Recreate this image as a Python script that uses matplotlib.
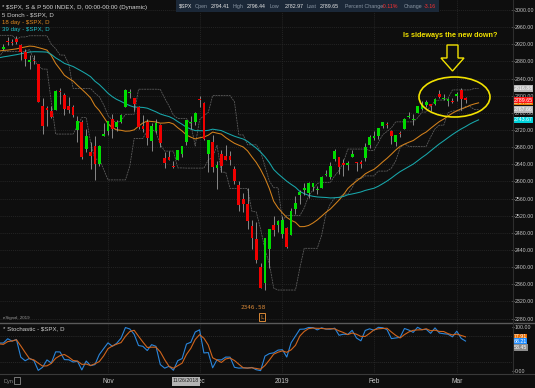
import matplotlib
matplotlib.use('Agg')
import matplotlib.pyplot as plt
import matplotlib.transforms as mtrans
from matplotlib.patches import Ellipse, Polygon, Rectangle
import numpy as np
import pandas as pd

# closes before the first bar, only used to warm up the moving averages (Jul 2 - Aug 31 2018)
warmup_closes = [2726.71, 2713.22, 2736.61, 2759.82, 2784.17, 2793.84, 2774.02, 2798.29, 2801.31,
                 2798.43, 2809.55, 2815.62, 2804.49, 2801.83, 2806.98, 2820.40, 2846.07, 2837.44,
                 2818.82, 2802.60, 2816.29, 2813.36, 2827.22, 2840.35, 2850.40, 2858.45, 2857.70,
                 2853.58, 2833.28, 2821.93, 2839.96, 2818.37, 2840.69, 2850.13, 2857.05, 2862.96,
                 2861.82, 2856.98, 2874.69, 2896.74, 2897.52, 2914.04, 2901.13, 2901.52]

holidays = ['2018-11-22', '2018-12-05', '2018-12-25', '2019-01-01', '2019-01-21', '2019-02-18']
dates = pd.bdate_range('2018-09-04', '2019-03-05')
dates = dates[~dates.isin(pd.to_datetime(holidays))]

# $SPX daily bars, Sep 4 2018 - Mar 5 2019
opens = [2896.96, 2891.59, 2888.64, 2868.26, 2881.39, 2871.57, 2888.29, 2896.85, 2906.38, 2903.83,
         2890.74, 2906.60, 2919.73, 2936.76, 2921.83, 2921.75, 2916.98, 2911.65, 2910.03,
         2926.29, 2923.80, 2931.69, 2919.35, 2902.54, 2877.53, 2882.51, 2873.90, 2776.87, 2770.54,
         2763.83, 2767.05, 2811.67, 2802.00, 2775.66, 2773.94, 2721.03, 2737.87, 2674.88, 2667.86,
         2682.65, 2640.68, 2705.60,
         2717.58, 2745.45, 2726.37, 2738.40, 2774.13, 2806.38, 2794.10, 2773.93, 2730.05, 2737.90,
         2693.52, 2718.54, 2730.74, 2654.60, 2657.74, 2633.36, 2649.97, 2663.75, 2691.45, 2736.97,
         2737.76,
         2790.50, 2782.43, 2663.51, 2691.26, 2630.86, 2664.44, 2658.23, 2658.70, 2629.68, 2590.75,
         2559.90, 2547.05, 2496.77, 2465.38, 2400.56, 2363.12, 2442.50, 2498.77, 2498.94,
         2476.96, 2491.92, 2474.33, 2535.61, 2568.11, 2580.00, 2573.51, 2588.11, 2580.31, 2585.10,
         2614.75, 2609.28, 2651.27, 2657.88, 2643.48, 2638.84, 2657.44, 2644.97, 2644.89, 2653.62,
         2685.49,
         2702.32, 2706.49, 2728.34, 2735.05, 2717.53, 2692.36, 2712.40, 2722.61, 2750.30, 2743.50,
         2760.24, 2769.28, 2779.05, 2780.67, 2780.67, 2804.35, 2792.36, 2787.50, 2788.11,
         2798.22, 2814.37, 2794.41]
highs = [2900.18, 2894.21, 2892.05, 2883.81, 2886.93, 2892.52, 2894.65, 2906.76, 2908.30, 2904.65,
         2911.17, 2912.36, 2934.80, 2940.91, 2923.79, 2923.95, 2931.15, 2927.22, 2920.53,
         2937.06, 2931.42, 2939.86, 2919.78, 2909.64, 2894.83, 2894.83, 2874.02, 2795.14, 2775.77,
         2775.99, 2813.46, 2816.94, 2806.04, 2797.77, 2778.94, 2753.59, 2742.59, 2722.70, 2692.38,
         2706.85, 2685.43, 2736.69,
         2741.67, 2756.55, 2744.27, 2756.82, 2815.15, 2814.75, 2794.10, 2775.99, 2754.60, 2746.80,
         2735.38, 2746.75, 2733.16, 2669.44, 2670.73, 2647.55, 2674.35, 2682.53, 2744.00, 2753.75,
         2760.88,
         2800.18, 2785.93, 2696.15, 2708.54, 2647.51, 2674.35, 2685.44, 2670.19, 2635.07, 2601.13,
         2573.99, 2585.29, 2509.63, 2504.41, 2410.34, 2467.76, 2489.10, 2520.27, 2509.24,
         2519.49, 2493.14, 2538.07, 2566.16, 2579.82, 2595.32, 2597.82, 2596.27, 2589.32, 2613.08,
         2625.76, 2645.06, 2675.47, 2657.88, 2653.19, 2647.20, 2672.38, 2644.97, 2650.93, 2690.44,
         2708.95,
         2716.66, 2724.99, 2738.98, 2738.08, 2719.32, 2708.07, 2718.05, 2748.19, 2761.85, 2757.90,
         2775.66, 2787.33, 2789.88, 2781.58, 2794.20, 2813.49, 2803.12, 2795.76, 2793.73,
         2808.02, 2816.88, 2796.44]
lows = [2885.13, 2876.92, 2867.29, 2864.12, 2875.94, 2866.78, 2879.20, 2896.39, 2895.77, 2886.16,
        2890.43, 2903.82, 2919.73, 2927.11, 2912.63, 2913.70, 2903.28, 2909.27, 2907.50,
        2917.91, 2919.37, 2921.36, 2883.92, 2869.29, 2862.08, 2874.27, 2784.86, 2710.51, 2729.44,
        2749.03, 2766.91, 2781.81, 2755.18, 2760.27, 2749.22, 2691.43, 2651.89, 2667.84, 2628.16,
        2603.54, 2635.34, 2705.60,
        2708.85, 2700.44, 2717.94, 2737.08, 2774.13, 2794.99, 2764.24, 2722.00, 2714.98, 2685.75,
        2670.75, 2712.16, 2681.09, 2631.52, 2649.82, 2631.09, 2649.97, 2655.89, 2684.38, 2722.94,
        2732.76,
        2773.38, 2697.18, 2621.53, 2623.14, 2583.23, 2621.30, 2650.26, 2637.27, 2593.84, 2530.54,
        2528.71, 2488.96, 2441.18, 2408.55, 2351.10, 2346.58, 2397.94, 2472.89, 2482.82,
        2467.47, 2443.96, 2474.33, 2524.56, 2547.56, 2568.89, 2562.02, 2577.40, 2570.41, 2585.10,
        2612.68, 2606.36, 2647.58, 2617.27, 2612.86, 2627.01, 2657.33, 2624.06, 2631.05, 2648.34,
        2678.65,
        2696.88, 2698.75, 2724.03, 2724.15, 2687.26, 2681.83, 2703.79, 2722.61, 2748.63, 2731.23,
        2760.24, 2767.29, 2774.06, 2764.55, 2779.11, 2794.99, 2789.47, 2775.13, 2782.51,
        2787.38, 2767.66, 2782.97]
closes = [2896.72, 2888.60, 2878.05, 2871.68, 2877.13, 2887.89, 2888.92, 2904.18, 2904.98, 2888.80,
          2904.31, 2907.95, 2930.75, 2929.67, 2919.37, 2915.56, 2905.97, 2914.00, 2913.98,
          2924.59, 2923.43, 2925.51, 2901.61, 2885.57, 2884.43, 2880.34, 2785.68, 2728.37, 2767.13,
          2750.79, 2809.92, 2809.21, 2768.78, 2767.78, 2755.88, 2740.69, 2656.10, 2705.57, 2658.69,
          2641.25, 2682.63, 2711.74,
          2740.37, 2723.06, 2738.31, 2755.45, 2813.89, 2806.83, 2781.01, 2726.22, 2722.18, 2701.58,
          2730.20, 2736.27, 2690.73, 2641.89, 2649.93, 2632.56, 2673.45, 2682.17, 2743.79, 2737.80,
          2760.17,
          2790.37, 2700.06, 2695.95, 2633.08, 2637.72, 2636.78, 2651.07, 2650.54, 2599.95, 2545.94,
          2546.16, 2506.96, 2467.42, 2416.62, 2351.10, 2467.70, 2488.83, 2485.74, 2506.85,
          2510.03, 2447.89, 2531.94, 2549.69, 2574.41, 2584.96, 2596.64, 2596.26, 2582.61, 2610.30,
          2616.10, 2635.96, 2670.71, 2632.90, 2638.70, 2642.33, 2664.76, 2643.85, 2640.00, 2681.05,
          2704.10,
          2706.53, 2724.87, 2737.70, 2731.61, 2706.05, 2707.88, 2709.80, 2744.73, 2753.03, 2745.73,
          2775.60, 2779.76, 2784.70, 2774.88, 2792.67, 2796.11, 2793.90, 2792.38, 2784.49,
          2803.69, 2792.81, 2789.65]

month_ticks = ['2018-11-01', '2018-12-03', '2019-01-02', '2019-02-01', '2019-03-01']
month_labels = ['Nov', 'Dec', '2019', 'Feb', 'Mar']
price_ticks = list(range(2280, 3001, 40))

last_tags = [(2816.88, '2816.88', '#b8b8b8'), (2784.60, '2784.60', '#e47a00'),
             (2767.66, '2767.66', '#b8b8b8'), (2789.65, '2789.65', '#ff1414'),
             (2743.67, '2743.67', '#00d4dc')]
stoch_tags = [(77.91, '77.91', '#e86c00'), (68.21, '68.21', '#1e8cff'), (53.45, '53.45', '#8c8c8c')]

BG = '#0e0e0e'
W, H = 535, 388
GREEN = '#00dc00'
RED = '#f00000'
ORANGE = '#d4821c'
CYAN = '#18a8ac'
SHIFT = 3   # the study lines are displaced 3 bars forward
FONT = 'Liberation Sans'

df = pd.DataFrame({'o': opens, 'h': highs, 'l': lows, 'c': closes}, index=dates)
x = np.arange(len(df))


def wma(s, n):
    w = np.arange(1, n + 1)
    return s.rolling(n).apply(lambda v: np.dot(v, w) / w.sum(), raw=True)


# indicators
all_c = pd.Series(warmup_closes + closes)
ma18 = wma(all_c, 18).values[len(warmup_closes):]
ma39 = wma(all_c, 39).values[len(warmup_closes):]
don_hi = df['h'].rolling(5).max().values
don_lo = df['l'].rolling(5).min().values
ll = df['l'].rolling(14).min()
hh = df['h'].rolling(14).max()
k = (100 * (df['c'] - ll) / (hh - ll)).values
d = pd.Series(k).rolling(3).mean().values

tick_x = [df.index.get_loc(pd.Timestamp(t)) for t in month_ticks]
nov = tick_x[0]
px_bar = 4.36
xl = (nov - 108 / px_bar, nov + 404 / px_bar)

fig = plt.figure(figsize=(W / 100, H / 100), dpi=100, facecolor=BG)
ax = fig.add_axes([0, 66 / H, 512 / W, 322 / H], facecolor=BG)
ax2 = fig.add_axes([0, 15 / H, 512 / W, 50 / H], facecolor=BG)

# main panel
ax.set_xlim(*xl)
ax.set_ylim(2272, 3023.3)
for p in price_ticks:
    ax.axhline(p, color='#2c2c2c', lw=0.5, ls=(0, (1.5, 1.5)), zorder=0)
for t in tick_x:
    ax.axvline(t, color='#2c2c2c', lw=0.5, ls=(0, (1.5, 1.5)), zorder=0)

ax.plot(x + SHIFT, don_hi, color='#626262', lw=0.55, ls=(0, (2.5, 1)), zorder=1)
ax.plot(x + SHIFT, don_lo, color='#626262', lw=0.55, ls=(0, (2.5, 1)), zorder=1)
ax.plot(x + SHIFT, ma18, color=ORANGE, lw=0.75, zorder=2)
ax.plot(x + SHIFT, ma39, color=CYAN, lw=0.75, zorder=2)

up = df['c'] >= df['o']
cols = np.where(up, GREEN, RED)
ax.vlines(x, df['l'], df['h'], color='#9c9c9c', lw=0.6, zorder=3)
body = np.maximum((df['c'] - df['o']).abs(), 2.5)
ax.bar(x, body, bottom=np.minimum(df['o'], df['c']), width=0.62, color=cols, lw=0, zorder=4)

ax.yaxis.tick_right()
ax.set_yticks(price_ticks)
ax.set_yticklabels(['%.2f' % p for p in price_ticks], family=FONT)
ax.tick_params(axis='y', colors='#c4c4c4', labelsize=3.8, length=1.5, pad=0.6, width=0.5)
ax.tick_params(axis='x', bottom=False, labelbottom=False)
for s in ax.spines.values():
    s.set_visible(False)

# low marker
i_low = int(np.argmin(df['l'].values))
ax.annotate('%.2f' % df['l'].iloc[i_low], xy=(i_low, df['l'].iloc[i_low]), xytext=(1, -12.5),
            textcoords='offset points', ha='right', va='center', fontsize=4.3,
            color='#d88838', family='DejaVu Sans Mono')
ax.annotate('L', xy=(i_low, df['l'].iloc[i_low]), xytext=(-2.3, -19.5),
            textcoords='offset points', ha='center', va='center', fontsize=4.2, color='#e08a30',
            bbox=dict(boxstyle='square,pad=0.25', fc='none', ec='#d88838', lw=0.7))

blend = mtrans.blended_transform_factory(ax.transAxes, ax.transData)
for val, txt, fc in last_tags:
    ax.text(1.003, val, txt, transform=blend, fontsize=3.8, color='white', ha='left', va='center',
            clip_on=False, family=FONT, bbox=dict(boxstyle='square,pad=0.12', fc=fc, ec='none'))

# stochastic panel
ax2.set_xlim(*xl)
ax2.set_ylim(-5.5, 109.9)
for lvl in (20, 80):
    ax2.axhline(lvl, color='#333333', lw=0.5, ls=(0, (1.5, 1.5)), zorder=0)
for t in tick_x:
    ax2.axvline(t, color='#2c2c2c', lw=0.5, ls=(0, (1.5, 1.5)), zorder=0)
ax2.plot(x, k, color='#2a86dc', lw=0.8)
ax2.plot(x, d, color='#d0641c', lw=0.8)
ax2.yaxis.tick_right()
ax2.set_yticks([0, 100])
ax2.set_yticklabels(['0.00', '100.00'], family=FONT)
ax2.tick_params(axis='y', colors='#c4c4c4', labelsize=3.8, length=1.5, pad=0.6, width=0.5)
ax2.set_xticks(tick_x)
ax2.set_xticklabels(month_labels, family=FONT)
ax2.tick_params(axis='x', colors='#c8c8c8', labelsize=4.8, length=0, pad=3.5)
for s in ax2.spines.values():
    s.set_visible(False)
blend2 = mtrans.blended_transform_factory(ax2.transAxes, ax2.transData)
for val, txt, fc in stoch_tags:
    ax2.text(1.003, val, txt, transform=blend2, fontsize=3.8, color='white', ha='left', va='center',
             clip_on=False, family=FONT, bbox=dict(boxstyle='square,pad=0.12', fc=fc, ec='none'))

# overlay in pixel coordinates for frame, header and hand drawn notes
ov = fig.add_axes([0, 0, 1, 1])
ov.set_xlim(0, W)
ov.set_ylim(H, 0)
ov.axis('off')
ov.patch.set_alpha(0)
ov.plot([0, W], [322.5, 322.5], color='#5a5a5a', lw=1)
ov.plot([0, W], [373.5, 373.5], color='#3a3a3a', lw=0.8)
ov.plot([512.5, 512.5], [0, 373], color='#2e2e2e', lw=0.8)

ov.add_patch(Rectangle((176, 0), 263, 12, fc='#1b2838', ec='none'))
hdr = [(179, '$SPX', '#e8e8e8'), (195, 'Open', '#8a96a4'), (211, '2794.41', '#e8e8e8'),
       (233, 'High', '#8a96a4'), (247, '2796.44', '#e8e8e8'), (270, 'Low', '#8a96a4'),
       (285, '2782.97', '#e8e8e8'), (307, 'Last', '#8a96a4'), (320, '2789.65', '#e8e8e8'),
       (345, 'Percent Change', '#8a96a4'), (382, '-0.11%', '#ff3030'),
       (404, 'Change', '#8a96a4'), (424, '-3.16', '#ff3030')]
for hx, s, c in hdr:
    ov.text(hx, 6.5, s, fontsize=3.8, color=c, va='center', ha='left', family=FONT)

ov.text(2, 7, '* $SPX, S & P 500 INDEX, D, 00:00-00:00 (Dynamic)', fontsize=4.4, color='#d8d8d8',
        va='center', family=FONT)
ov.text(2, 15, '5 Donch - $SPX, D', fontsize=4.4, color='#d0d0d0', va='center', family=FONT)
ov.text(2, 22.5, '18 day - $SPX, D', fontsize=4.4, color='#e08a20', va='center', family=FONT)
ov.text(2, 29.5, '39 day - $SPX, D', fontsize=4.4, color='#20c4cc', va='center', family=FONT)
ov.text(3, 318, 'eSignal, 2019', fontsize=3.2, color='#9a9a9a', va='center', family=FONT)
ov.text(3, 329, '* Stochastic - $SPX, D', fontsize=4.4, color='#d0d0d0', va='center', family=FONT)
ov.text(3, 381, 'Dyn', fontsize=4.0, color='#8a8a8a', va='center', family=FONT)
ov.add_patch(Rectangle((14, 377), 6, 7, fc='none', ec='#8a8a8a', lw=0.6))

ov.add_patch(Rectangle((172, 376.5), 28, 9, fc='#b4b4b4', ec='none', zorder=5))
ov.text(186, 381, '11/26/2018', fontsize=3.8, color='#202020', ha='center', va='center', zorder=6,
        family=FONT)

YEL = '#f2e200'
ov.text(450, 35.5, 'Is sideways the new down?', fontsize=5.2, color=YEL, fontweight='bold',
        ha='center', va='center', family=FONT)
ov.add_patch(Polygon([(447, 45), (458, 45), (458, 58), (464, 58), (452.5, 71), (441, 58), (447, 58)],
                     closed=True, fc='none', ec=YEL, lw=1.0))
ov.add_patch(Ellipse((454.5, 97), 71, 40, fc='none', ec=YEL, lw=1.2))

fig.savefig('out.png', dpi=100, facecolor=BG)
